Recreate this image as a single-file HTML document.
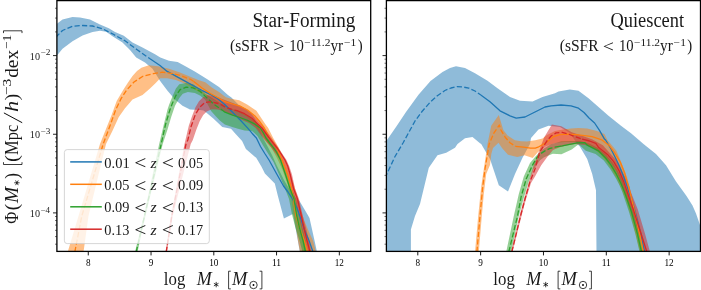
<!DOCTYPE html>
<html><head><meta charset="utf-8"><title>Stellar mass functions</title>
<style>html,body{margin:0;padding:0;background:#fff;}svg{display:block;will-change:transform;}body{font-family:"Liberation Serif",serif;}</style></head>
<body>
<svg width="701" height="290" viewBox="0 0 701 290" font-family="'Liberation Serif', serif" fill="#000">
<rect x="0" y="0" width="701" height="290" fill="#fff"/>
<defs><clipPath id="cl"><rect x="56.9" y="0.6" width="313.8" height="250.8"/></clipPath><clipPath id="cr"><rect x="386.4" y="0.6" width="314.1" height="250.8"/></clipPath></defs>
<g clip-path="url(#cl)">
<polygon points="56.0,25.0 57.0,23.8 62.5,19.5 72.5,17.0 80.0,17.5 90.0,19.5 100.0,24.5 108.8,28.2 115.0,32.0 123.8,35.8 132.5,42.5 142.5,47.5 155.0,54.2 160.3,57.6 169.0,60.7 177.6,61.9 184.5,65.7 194.8,71.4 206.9,79.1 219.0,86.9 227.6,94.7 231.7,97.8 238.6,104.7 249.0,110.7 254.5,118.0 259.0,128.0 263.0,138.0 268.0,147.3 272.0,155.0 277.0,166.0 284.0,180.0 291.0,192.0 296.0,198.0 299.5,201.0 307.5,214.5 309.5,218.0 314.5,240.5 317.0,252.0 299.9,252.0 293.0,213.9 283.9,218.5 277.9,196.0 274.8,183.6 264.9,173.6 261.4,166.4 256.2,157.8 245.9,149.1 242.1,141.0 235.9,134.2 231.0,128.8 222.3,126.9 213.6,118.8 206.8,113.0 203.5,110.5 200.0,110.0 190.0,109.5 182.5,105.8 175.0,99.5 167.5,90.8 160.0,80.8 152.5,68.8 145.0,62.5 136.2,57.5 130.0,50.0 122.5,42.5 112.5,36.2 106.2,31.8 100.0,30.8 92.5,32.0 82.5,35.5 72.5,41.2 62.5,48.8 57.0,55.5 56.0,57.0" fill="#1f77b4" fill-opacity="0.5" />
<polygon points="67.7,252.0 78.5,216.0 100.0,144.0 105.8,129.5 111.8,114.5 116.7,101.0 123.5,89.4 128.0,82.5 132.5,76.0 137.0,71.0 141.4,67.7 148.9,65.2 157.9,66.2 169.0,68.8 179.3,72.2 189.7,76.6 198.3,80.0 205.2,82.2 212.1,87.8 219.0,92.1 225.9,97.2 231.0,98.7 239.2,100.2 247.5,104.7 256.4,110.7 260.9,117.5 265.4,124.2 268.2,128.0 273.2,138.0 278.5,147.3 283.5,157.0 288.0,168.0 293.0,182.0 297.0,195.0 300.0,207.0 304.0,220.0 309.0,232.0 313.0,240.5 316.0,252.0 300.0,252.0 298.0,240.5 296.0,228.0 293.5,214.5 291.0,198.0 287.5,184.0 282.5,170.0 277.0,158.0 271.5,148.0 265.5,140.0 260.0,132.0 254.0,124.0 247.0,117.0 238.0,112.0 228.0,108.0 219.0,103.3 210.3,98.1 201.7,93.8 193.1,88.6 184.5,83.4 175.9,80.0 167.2,78.3 160.3,78.3 155.2,83.4 150.0,88.6 142.5,95.0 132.5,99.5 125.0,108.2 118.8,117.0 112.5,130.8 106.0,144.0 88.5,216.0 83.5,252.0" fill="#ff7f0e" fill-opacity="0.5" />
<polygon points="135.0,252.0 143.8,216.0 159.2,144.0 163.8,124.5 167.5,109.5 169.0,105.0 172.4,96.4 175.9,88.6 179.3,84.3 186.2,83.1 193.1,84.3 200.0,89.5 205.2,93.8 212.0,98.0 220.0,103.0 230.0,108.0 240.0,112.0 248.0,116.0 255.0,122.0 262.2,128.0 268.0,138.0 275.5,147.3 282.5,160.0 287.5,174.5 292.0,188.5 296.0,199.0 299.0,214.5 302.5,228.0 305.5,240.5 307.5,252.0 302.5,252.0 299.5,240.5 295.5,228.0 292.0,214.5 289.0,199.0 285.0,188.5 279.0,174.5 273.5,162.0 269.0,155.0 263.5,146.3 257.5,136.0 252.0,130.9 244.5,130.6 238.0,128.8 232.2,127.0 224.8,124.5 219.8,120.5 216.0,116.5 211.1,111.0 208.0,105.0 205.2,99.8 200.0,95.5 194.8,92.9 187.9,92.1 182.8,93.8 179.3,98.1 175.0,105.8 171.2,117.0 167.5,129.5 162.7,144.0 145.5,216.0 137.5,252.0" fill="#2ca02c" fill-opacity="0.5" />
<polygon points="165.5,252.0 171.0,216.0 184.5,144.0 188.8,125.8 192.1,115.9 195.5,107.2 199.0,101.2 203.3,96.9 207.6,95.2 215.0,96.0 222.0,99.0 230.0,102.0 238.0,105.0 246.0,109.0 253.0,115.0 259.0,122.0 264.5,128.0 271.0,137.0 277.5,146.5 282.5,154.0 286.5,160.0 289.5,167.0 292.0,174.5 295.0,188.5 299.0,199.0 302.5,214.5 306.0,228.0 309.0,240.5 311.5,252.0 308.0,252.0 305.0,240.5 301.5,228.0 298.5,214.5 295.0,199.0 291.0,188.5 287.0,174.5 282.0,162.0 277.0,155.0 271.0,147.3 263.0,138.0 255.7,128.0 249.0,123.0 242.0,120.0 234.0,116.0 226.0,112.0 218.0,109.5 211.7,109.2 206.7,111.6 203.2,115.0 199.8,121.0 196.3,129.7 192.8,140.0 190.7,144.0 172.7,216.0 167.0,252.0" fill="#d62728" fill-opacity="0.5" />
<polyline points="56.0,37.5 57.0,36.0 62.5,30.5 72.5,26.2 82.5,25.5 92.5,26.0 102.5,28.8 112.5,33.8 125.0,40.8 137.5,50.0 150.0,58.8" fill="none" stroke="#1f77b4" stroke-width="1.3" stroke-dasharray="5.2 2.3" stroke-linejoin="round"/>
<polyline points="150.0,58.8 160.0,65.5 167.2,71.4 184.5,80.9 201.7,90.3 211.9,95.2 218.0,99.0 225.0,104.7 232.5,112.2 240.0,119.7 247.5,127.9 252.0,133.2 256.4,138.0 260.5,146.5 264.8,153.5 269.0,160.0 277.0,174.5 283.5,186.0 288.0,192.0 292.5,199.0 297.0,208.0 300.5,218.0 304.5,230.0 309.0,240.5 313.0,252.0" fill="none" stroke="#1f77b4" stroke-width="1.3" stroke-linejoin="round" stroke-linecap="butt"/>
<polyline points="74.8,252.0 81.8,216.0 103.2,144.0 110.0,125.8 115.8,109.5 121.2,98.4 126.5,90.2 134.0,82.0 142.9,76.3 153.4,73.6 162.4,72.2 172.9,73.6 181.9,76.0 190.8,79.5 193.8,81.5" fill="none" stroke="#ff7f0e" stroke-width="1.3" stroke-dasharray="5.2 2.3" stroke-linejoin="round"/>
<polyline points="193.8,81.5 201.7,87.8 210.3,93.5 219.0,98.2 225.0,101.7 232.5,104.0 240.0,106.2 247.5,110.0 254.9,116.0 259.4,121.2 264.3,128.0 269.6,138.0 276.7,147.3 282.0,160.0 287.5,174.5 291.5,188.5 293.5,199.0 295.7,214.5 299.5,228.0 304.3,240.5 307.5,252.0" fill="none" stroke="#ff7f0e" stroke-width="1.3" stroke-linejoin="round" stroke-linecap="butt"/>
<polyline points="136.2,252.0 144.5,216.0 161.2,144.0 165.5,124.5 170.0,109.5 172.4,103.3 175.9,95.5 180.2,89.5 186.2,87.2 193.1,87.8 200.0,91.2 205.9,96.9 214.5,104.7 223.1,110.7" fill="none" stroke="#2ca02c" stroke-width="1.3" stroke-dasharray="5.2 2.3" stroke-linejoin="round"/>
<polyline points="223.1,110.7 225.0,112.2 232.5,115.2 240.0,117.5 247.5,120.4 254.9,124.2 260.2,128.0 263.5,133.2 266.0,138.0 270.5,144.0 273.2,147.3 276.5,152.0 280.5,160.0 285.5,174.5 290.0,188.5 294.0,199.0 296.5,214.5 299.5,228.0 303.0,240.5 305.5,252.0" fill="none" stroke="#2ca02c" stroke-width="1.3" stroke-linejoin="round" stroke-linecap="butt"/>
<polyline points="166.2,252.0 171.8,216.0 186.0,144.0 187.8,140.0 191.2,126.2 195.5,114.1 199.8,107.2 205.0,102.4 211.0,101.7 219.7,103.8 225.0,107.0 231.0,109.2 236.0,110.4" fill="none" stroke="#d62728" stroke-width="1.3" stroke-dasharray="5.2 2.3" stroke-linejoin="round"/>
<polyline points="236.0,110.4 237.0,110.7 244.5,113.7 251.9,118.2 257.9,124.2 262.0,128.0 268.5,137.0 273.5,143.5 277.5,148.5 281.5,154.5 285.0,160.0 287.7,166.0 290.2,174.5 293.5,188.5 297.5,199.0 301.0,214.5 304.0,228.0 307.0,240.5 310.0,252.0" fill="none" stroke="#d62728" stroke-width="1.3" stroke-linejoin="round" stroke-linecap="butt"/>
</g>
<g clip-path="url(#cr)">
<polygon points="385.0,143.0 387.0,140.0 396.0,127.0 406.0,112.0 418.7,94.5 430.5,81.0 442.5,72.0 450.0,68.0 456.0,66.2 465.0,68.0 475.0,73.2 487.5,80.8 497.5,88.2 510.0,97.0 520.0,100.8 532.5,101.5 542.5,97.0 555.0,93.2 558.5,91.5 569.8,89.5 578.5,90.8 588.5,98.2 598.5,107.0 608.5,115.8 621.0,125.8 631.0,133.2 643.5,144.0 656.0,154.0 666.0,165.2 676.0,181.5 686.5,196.0 692.5,205.5 696.0,213.5 700.0,225.0 702.0,235.0 702.0,253.0 596.5,253.0 596.0,190.2 592.2,174.0 587.2,159.0 579.8,146.5 576.9,143.4 570.0,133.0 560.0,127.0 548.5,125.8 538.5,129.5 531.0,138.0 530.0,144.0 522.5,157.8 515.0,174.0 508.0,191.5 498.8,185.2 490.0,159.0 481.2,144.0 480.0,143.2 472.5,137.0 465.0,138.2 457.5,144.0 455.0,147.8 446.2,152.8 437.5,155.2 428.8,167.8 420.0,204.0 415.0,216.0 410.9,229.5 410.9,253.0 385.0,253.0" fill="#1f77b4" fill-opacity="0.5" />
<polygon points="475.0,252.0 478.2,216.0 481.2,186.5 483.8,169.0 487.5,144.0 491.2,125.8 498.8,115.0 503.3,130.0 507.6,135.4 514.8,140.3 521.0,141.2 526.9,141.5 535.3,140.3 542.5,138.4 547.0,135.0 555.0,131.0 563.0,129.5 571.0,128.5 578.4,127.9 587.1,128.5 597.0,131.0 604.5,134.1 607.4,140.0 616.4,150.8 621.8,163.4 627.2,177.8 629.2,185.0 630.8,192.0 634.5,205.0 639.0,222.0 643.0,238.0 646.0,252.0 640.0,252.0 636.5,238.0 632.0,220.0 627.0,203.0 622.0,190.0 617.5,180.0 612.0,170.0 606.0,161.0 600.0,154.0 593.0,148.0 585.0,144.0 575.0,142.0 565.0,142.0 555.0,143.0 545.0,146.5 538.0,152.0 532.7,158.0 529.0,156.8 524.5,155.3 517.2,157.0 508.0,154.7 502.0,148.0 498.5,142.7 493.0,148.0 491.3,154.0 490.0,165.0 486.2,174.0 483.8,194.0 481.8,216.0 478.8,252.0" fill="#ff7f0e" fill-opacity="0.5" />
<polygon points="506.2,252.0 513.8,216.0 518.8,194.0 523.8,176.5 530.0,163.0 535.5,156.4 542.4,149.5 551.0,144.3 561.4,141.2 571.7,140.9 580.3,140.9 589.0,143.4 597.6,147.8 606.2,154.7 613.1,163.0 618.5,172.0 623.0,182.0 626.5,192.0 633.5,212.0 639.5,234.0 643.5,252.0 639.6,252.0 635.4,234.0 629.0,212.0 622.3,192.0 619.6,185.5 616.0,178.5 610.5,169.5 603.8,160.5 595.6,154.0 585.8,150.8 578.6,144.3 571.7,149.5 561.4,154.3 552.8,153.8 544.1,157.2 540.0,160.2 533.8,169.0 528.8,181.5 523.8,197.8 518.8,216.0 511.2,252.0" fill="#2ca02c" fill-opacity="0.5" />
<polygon points="511.0,252.0 519.5,216.0 524.0,199.0 529.0,181.5 533.8,165.0 539.0,151.2 544.1,137.4 551.9,124.5 561.4,126.2 571.7,132.2 582.1,135.7 592.4,139.5 602.8,145.2 609.7,152.9 616.0,160.0 621.0,169.0 626.0,179.0 629.2,186.0 630.8,192.0 637.8,209.5 645.1,234.0 650.0,252.0 644.0,252.0 638.0,232.0 631.0,210.0 624.5,192.0 621.0,182.0 616.5,172.0 611.0,163.5 604.5,156.0 598.0,151.0 592.0,147.5 585.0,145.0 575.0,144.0 566.0,145.5 559.0,147.5 553.0,150.0 547.6,156.4 541.2,165.2 535.0,176.5 531.0,183.0 526.0,199.0 521.5,216.0 512.5,252.0" fill="#d62728" fill-opacity="0.5" />
<polyline points="385.0,178.0 388.0,171.5 395.0,156.5 403.0,143.0 409.0,132.0 414.9,121.2 422.0,111.5 429.9,102.5 437.0,96.0 444.9,90.5 451.0,88.0 456.9,86.7 463.0,87.0 468.8,88.2 475.0,91.0 480.8,95.0" fill="none" stroke="#1f77b4" stroke-width="1.3" stroke-dasharray="5.2 2.3" stroke-linejoin="round"/>
<polyline points="480.8,95.0 490.0,101.7 500.0,110.8 510.0,115.8 516.2,118.2 525.0,117.0 535.0,112.0 545.0,107.0 551.0,105.8 561.0,105.0 571.0,105.8 578.5,108.2 584.0,112.5 589.0,118.0 594.6,123.0 599.5,130.4 604.5,139.1 605.6,140.0 611.0,149.0 615.5,158.0 619.0,165.2 623.0,175.0 627.0,186.0 631.0,198.0 636.0,215.0 641.0,235.0 644.5,252.0" fill="none" stroke="#1f77b4" stroke-width="1.3" stroke-linejoin="round" stroke-linecap="butt"/>
<polyline points="476.9,252.0 480.0,216.0 482.5,189.0 485.0,169.0 489.2,144.0 493.8,133.2 499.3,125.0 500.9,130.0 505.2,137.2 510.0,142.7 515.4,146.3" fill="none" stroke="#ff7f0e" stroke-width="1.3" stroke-dasharray="5.2 2.3" stroke-linejoin="round"/>
<polyline points="515.4,146.3 523.3,147.1 530.5,148.1 535.3,148.1 538.0,147.2 542.4,144.7 547.4,141.6 553.6,136.6 559.8,134.7 567.3,134.1 575.9,134.7 584.6,135.6 592.1,136.6 599.5,139.1 602.0,140.0 609.2,145.4 614.6,152.6 620.0,161.6 624.5,172.4 628.0,185.0 629.9,192.0 633.0,205.0 637.0,222.0 640.5,238.0 643.4,252.0" fill="none" stroke="#ff7f0e" stroke-width="1.3" stroke-linejoin="round" stroke-linecap="butt"/>
<polyline points="508.8,252.0 517.5,216.0 521.2,196.5 526.2,179.0 532.5,165.2 537.2,157.2 541.0,153.5 544.9,150.9 549.9,148.4 554.9,147.2" fill="none" stroke="#2ca02c" stroke-width="1.3" stroke-dasharray="5.2 2.3" stroke-linejoin="round"/>
<polyline points="554.9,147.2 562.3,145.9 569.7,144.3 577.2,142.8 584.6,142.6 587.6,145.4 598.4,150.8 605.6,158.0 611.0,165.2 616.4,174.2 620.9,183.2 624.5,192.0 631.5,212.0 637.5,234.0 641.5,252.0" fill="none" stroke="#2ca02c" stroke-width="1.3" stroke-linejoin="round" stroke-linecap="butt"/>
<polyline points="511.8,252.0 520.5,216.0 525.0,199.0 530.0,181.5 535.0,169.0 538.0,158.0 540.0,151.5 543.7,145.9 547.4,140.3 551.1,136.0 556.1,132.9 562.3,132.3 568.5,134.1 574.7,136.6 582.1,139.1" fill="none" stroke="#d62728" stroke-width="1.3" stroke-dasharray="5.2 2.3" stroke-linejoin="round"/>
<polyline points="582.1,139.1 589.6,141.0 595.8,143.4 598.4,147.2 607.4,154.4 613.7,161.6 619.0,170.6 623.6,181.4 627.2,192.0 633.5,210.0 640.5,232.0 646.9,252.0" fill="none" stroke="#d62728" stroke-width="1.3" stroke-linejoin="round" stroke-linecap="butt"/>
</g>
<rect x="64.4" y="149.6" width="144.9" height="94.0" rx="2.8" ry="2.8" fill="#fff" fill-opacity="0.8" stroke="#ccc" stroke-opacity="0.8" stroke-width="1"/>
<line x1="70.2" y1="161.9" x2="101.8" y2="161.9" stroke="#1f77b4" stroke-width="1.5"/>
<g opacity="0.9"><text x="104.35" y="167.50" font-size="15.6" textLength="25.43" lengthAdjust="spacingAndGlyphs" xml:space="preserve">0.01</text></g>
<g opacity="0.9"><text x="134.33" y="169.10" font-size="19.5" textLength="12.12" lengthAdjust="spacingAndGlyphs" xml:space="preserve">&lt;</text></g>
<g opacity="0.9"><text x="150.48" y="167.50" font-size="15.6" textLength="6.13" lengthAdjust="spacingAndGlyphs" font-style="italic" xml:space="preserve">z</text></g>
<g opacity="0.9"><text x="161.83" y="169.10" font-size="19.5" textLength="12.12" lengthAdjust="spacingAndGlyphs" xml:space="preserve">&lt;</text></g>
<g opacity="0.9"><text x="178.05" y="167.50" font-size="15.6" textLength="25.21" lengthAdjust="spacingAndGlyphs" xml:space="preserve">0.05</text></g>
<line x1="70.2" y1="184.3" x2="101.8" y2="184.3" stroke="#ff7f0e" stroke-width="1.5"/>
<g opacity="0.9"><text x="104.35" y="189.90" font-size="15.6" textLength="25.11" lengthAdjust="spacingAndGlyphs" xml:space="preserve">0.05</text></g>
<g opacity="0.9"><text x="134.33" y="191.50" font-size="19.5" textLength="12.12" lengthAdjust="spacingAndGlyphs" xml:space="preserve">&lt;</text></g>
<g opacity="0.9"><text x="150.48" y="189.90" font-size="15.6" textLength="6.13" lengthAdjust="spacingAndGlyphs" font-style="italic" xml:space="preserve">z</text></g>
<g opacity="0.9"><text x="161.83" y="191.50" font-size="19.5" textLength="12.12" lengthAdjust="spacingAndGlyphs" xml:space="preserve">&lt;</text></g>
<g opacity="0.9"><text x="178.05" y="189.90" font-size="15.6" textLength="25.24" lengthAdjust="spacingAndGlyphs" xml:space="preserve">0.09</text></g>
<line x1="70.2" y1="206.8" x2="101.8" y2="206.8" stroke="#2ca02c" stroke-width="1.5"/>
<g opacity="0.9"><text x="104.35" y="212.40" font-size="15.6" textLength="25.14" lengthAdjust="spacingAndGlyphs" xml:space="preserve">0.09</text></g>
<g opacity="0.9"><text x="134.33" y="214.00" font-size="19.5" textLength="12.12" lengthAdjust="spacingAndGlyphs" xml:space="preserve">&lt;</text></g>
<g opacity="0.9"><text x="150.48" y="212.40" font-size="15.6" textLength="6.13" lengthAdjust="spacingAndGlyphs" font-style="italic" xml:space="preserve">z</text></g>
<g opacity="0.9"><text x="161.83" y="214.00" font-size="19.5" textLength="12.12" lengthAdjust="spacingAndGlyphs" xml:space="preserve">&lt;</text></g>
<g opacity="0.9"><text x="178.05" y="212.40" font-size="15.6" textLength="25.21" lengthAdjust="spacingAndGlyphs" xml:space="preserve">0.13</text></g>
<line x1="70.2" y1="229.2" x2="101.8" y2="229.2" stroke="#d62728" stroke-width="1.5"/>
<g opacity="0.9"><text x="104.35" y="234.80" font-size="15.6" textLength="25.11" lengthAdjust="spacingAndGlyphs" xml:space="preserve">0.13</text></g>
<g opacity="0.9"><text x="134.33" y="236.40" font-size="19.5" textLength="12.12" lengthAdjust="spacingAndGlyphs" xml:space="preserve">&lt;</text></g>
<g opacity="0.9"><text x="150.48" y="234.80" font-size="15.6" textLength="6.13" lengthAdjust="spacingAndGlyphs" font-style="italic" xml:space="preserve">z</text></g>
<g opacity="0.9"><text x="161.83" y="236.40" font-size="19.5" textLength="12.12" lengthAdjust="spacingAndGlyphs" xml:space="preserve">&lt;</text></g>
<g opacity="0.9"><text x="178.05" y="234.80" font-size="15.6" textLength="25.06" lengthAdjust="spacingAndGlyphs" xml:space="preserve">0.17</text></g>
<rect x="56.9" y="0.6" width="313.8" height="250.8" fill="none" stroke="#000" stroke-width="1.3"/>
<rect x="386.4" y="0.6" width="314.1" height="250.8" fill="none" stroke="#000" stroke-width="1.3"/>
<line x1="55.0" y1="244.20" x2="56.9" y2="244.20" stroke="#000" stroke-width="0.55"/>
<line x1="55.0" y1="236.58" x2="56.9" y2="236.58" stroke="#000" stroke-width="0.55"/>
<line x1="55.0" y1="230.35" x2="56.9" y2="230.35" stroke="#000" stroke-width="0.55"/>
<line x1="55.0" y1="225.08" x2="56.9" y2="225.08" stroke="#000" stroke-width="0.55"/>
<line x1="55.0" y1="220.52" x2="56.9" y2="220.52" stroke="#000" stroke-width="0.55"/>
<line x1="55.0" y1="216.50" x2="56.9" y2="216.50" stroke="#000" stroke-width="0.55"/>
<line x1="53.0" y1="212.90" x2="56.9" y2="212.90" stroke="#000" stroke-width="0.85"/>
<line x1="55.0" y1="189.22" x2="56.9" y2="189.22" stroke="#000" stroke-width="0.55"/>
<line x1="55.0" y1="175.37" x2="56.9" y2="175.37" stroke="#000" stroke-width="0.55"/>
<line x1="55.0" y1="165.55" x2="56.9" y2="165.55" stroke="#000" stroke-width="0.55"/>
<line x1="55.0" y1="157.93" x2="56.9" y2="157.93" stroke="#000" stroke-width="0.55"/>
<line x1="55.0" y1="151.70" x2="56.9" y2="151.70" stroke="#000" stroke-width="0.55"/>
<line x1="55.0" y1="146.43" x2="56.9" y2="146.43" stroke="#000" stroke-width="0.55"/>
<line x1="55.0" y1="141.87" x2="56.9" y2="141.87" stroke="#000" stroke-width="0.55"/>
<line x1="55.0" y1="137.85" x2="56.9" y2="137.85" stroke="#000" stroke-width="0.55"/>
<line x1="53.0" y1="134.25" x2="56.9" y2="134.25" stroke="#000" stroke-width="0.85"/>
<line x1="55.0" y1="110.57" x2="56.9" y2="110.57" stroke="#000" stroke-width="0.55"/>
<line x1="55.0" y1="96.72" x2="56.9" y2="96.72" stroke="#000" stroke-width="0.55"/>
<line x1="55.0" y1="86.90" x2="56.9" y2="86.90" stroke="#000" stroke-width="0.55"/>
<line x1="55.0" y1="79.28" x2="56.9" y2="79.28" stroke="#000" stroke-width="0.55"/>
<line x1="55.0" y1="73.05" x2="56.9" y2="73.05" stroke="#000" stroke-width="0.55"/>
<line x1="55.0" y1="67.78" x2="56.9" y2="67.78" stroke="#000" stroke-width="0.55"/>
<line x1="55.0" y1="63.22" x2="56.9" y2="63.22" stroke="#000" stroke-width="0.55"/>
<line x1="55.0" y1="59.20" x2="56.9" y2="59.20" stroke="#000" stroke-width="0.55"/>
<line x1="53.0" y1="55.60" x2="56.9" y2="55.60" stroke="#000" stroke-width="0.85"/>
<line x1="55.0" y1="31.92" x2="56.9" y2="31.92" stroke="#000" stroke-width="0.55"/>
<line x1="55.0" y1="18.07" x2="56.9" y2="18.07" stroke="#000" stroke-width="0.55"/>
<line x1="55.0" y1="8.25" x2="56.9" y2="8.25" stroke="#000" stroke-width="0.55"/>
<line x1="384.5" y1="244.20" x2="386.4" y2="244.20" stroke="#000" stroke-width="0.55"/>
<line x1="384.5" y1="236.58" x2="386.4" y2="236.58" stroke="#000" stroke-width="0.55"/>
<line x1="384.5" y1="230.35" x2="386.4" y2="230.35" stroke="#000" stroke-width="0.55"/>
<line x1="384.5" y1="225.08" x2="386.4" y2="225.08" stroke="#000" stroke-width="0.55"/>
<line x1="384.5" y1="220.52" x2="386.4" y2="220.52" stroke="#000" stroke-width="0.55"/>
<line x1="384.5" y1="216.50" x2="386.4" y2="216.50" stroke="#000" stroke-width="0.55"/>
<line x1="382.5" y1="212.90" x2="386.4" y2="212.90" stroke="#000" stroke-width="0.85"/>
<line x1="384.5" y1="189.22" x2="386.4" y2="189.22" stroke="#000" stroke-width="0.55"/>
<line x1="384.5" y1="175.37" x2="386.4" y2="175.37" stroke="#000" stroke-width="0.55"/>
<line x1="384.5" y1="165.55" x2="386.4" y2="165.55" stroke="#000" stroke-width="0.55"/>
<line x1="384.5" y1="157.93" x2="386.4" y2="157.93" stroke="#000" stroke-width="0.55"/>
<line x1="384.5" y1="151.70" x2="386.4" y2="151.70" stroke="#000" stroke-width="0.55"/>
<line x1="384.5" y1="146.43" x2="386.4" y2="146.43" stroke="#000" stroke-width="0.55"/>
<line x1="384.5" y1="141.87" x2="386.4" y2="141.87" stroke="#000" stroke-width="0.55"/>
<line x1="384.5" y1="137.85" x2="386.4" y2="137.85" stroke="#000" stroke-width="0.55"/>
<line x1="382.5" y1="134.25" x2="386.4" y2="134.25" stroke="#000" stroke-width="0.85"/>
<line x1="384.5" y1="110.57" x2="386.4" y2="110.57" stroke="#000" stroke-width="0.55"/>
<line x1="384.5" y1="96.72" x2="386.4" y2="96.72" stroke="#000" stroke-width="0.55"/>
<line x1="384.5" y1="86.90" x2="386.4" y2="86.90" stroke="#000" stroke-width="0.55"/>
<line x1="384.5" y1="79.28" x2="386.4" y2="79.28" stroke="#000" stroke-width="0.55"/>
<line x1="384.5" y1="73.05" x2="386.4" y2="73.05" stroke="#000" stroke-width="0.55"/>
<line x1="384.5" y1="67.78" x2="386.4" y2="67.78" stroke="#000" stroke-width="0.55"/>
<line x1="384.5" y1="63.22" x2="386.4" y2="63.22" stroke="#000" stroke-width="0.55"/>
<line x1="384.5" y1="59.20" x2="386.4" y2="59.20" stroke="#000" stroke-width="0.55"/>
<line x1="382.5" y1="55.60" x2="386.4" y2="55.60" stroke="#000" stroke-width="0.85"/>
<line x1="384.5" y1="31.92" x2="386.4" y2="31.92" stroke="#000" stroke-width="0.55"/>
<line x1="384.5" y1="18.07" x2="386.4" y2="18.07" stroke="#000" stroke-width="0.55"/>
<line x1="384.5" y1="8.25" x2="386.4" y2="8.25" stroke="#000" stroke-width="0.55"/>
<line x1="88.28" y1="251.4" x2="88.28" y2="255.4" stroke="#000" stroke-width="0.9"/>
<text x="88.28" y="265.9" font-size="10.5" text-anchor="middle" textLength="4.6" lengthAdjust="spacingAndGlyphs">8</text>
<line x1="151.04" y1="251.4" x2="151.04" y2="255.4" stroke="#000" stroke-width="0.9"/>
<text x="151.04" y="265.9" font-size="10.5" text-anchor="middle" textLength="4.6" lengthAdjust="spacingAndGlyphs">9</text>
<line x1="213.80" y1="251.4" x2="213.80" y2="255.4" stroke="#000" stroke-width="0.9"/>
<text x="213.80" y="265.9" font-size="10.5" text-anchor="middle" textLength="9.2" lengthAdjust="spacingAndGlyphs">10</text>
<line x1="276.56" y1="251.4" x2="276.56" y2="255.4" stroke="#000" stroke-width="0.9"/>
<text x="276.56" y="265.9" font-size="10.5" text-anchor="middle" textLength="9.2" lengthAdjust="spacingAndGlyphs">11</text>
<line x1="339.32" y1="251.4" x2="339.32" y2="255.4" stroke="#000" stroke-width="0.9"/>
<text x="339.32" y="265.9" font-size="10.5" text-anchor="middle" textLength="9.2" lengthAdjust="spacingAndGlyphs">12</text>
<line x1="417.81" y1="251.4" x2="417.81" y2="255.4" stroke="#000" stroke-width="0.9"/>
<text x="417.81" y="265.9" font-size="10.5" text-anchor="middle" textLength="4.6" lengthAdjust="spacingAndGlyphs">8</text>
<line x1="480.64" y1="251.4" x2="480.64" y2="255.4" stroke="#000" stroke-width="0.9"/>
<text x="480.64" y="265.9" font-size="10.5" text-anchor="middle" textLength="4.6" lengthAdjust="spacingAndGlyphs">9</text>
<line x1="543.47" y1="251.4" x2="543.47" y2="255.4" stroke="#000" stroke-width="0.9"/>
<text x="543.47" y="265.9" font-size="10.5" text-anchor="middle" textLength="9.2" lengthAdjust="spacingAndGlyphs">10</text>
<line x1="606.30" y1="251.4" x2="606.30" y2="255.4" stroke="#000" stroke-width="0.9"/>
<text x="606.30" y="265.9" font-size="10.5" text-anchor="middle" textLength="9.2" lengthAdjust="spacingAndGlyphs">11</text>
<line x1="669.13" y1="251.4" x2="669.13" y2="255.4" stroke="#000" stroke-width="0.9"/>
<text x="669.13" y="265.9" font-size="10.5" text-anchor="middle" textLength="9.2" lengthAdjust="spacingAndGlyphs">12</text>
<g opacity="0.9"><text x="29.81" y="59.60" font-size="10.6" textLength="10.18" lengthAdjust="spacingAndGlyphs" xml:space="preserve">10</text></g>
<g opacity="0.9"><text x="40.53" y="55.40" font-size="7.4" textLength="9.99" lengthAdjust="spacingAndGlyphs" xml:space="preserve">−2</text></g>
<g opacity="0.9"><text x="29.81" y="138.25" font-size="10.6" textLength="10.18" lengthAdjust="spacingAndGlyphs" xml:space="preserve">10</text></g>
<g opacity="0.9"><text x="40.54" y="134.05" font-size="7.4" textLength="9.82" lengthAdjust="spacingAndGlyphs" xml:space="preserve">−3</text></g>
<g opacity="0.9"><text x="29.81" y="216.90" font-size="10.6" textLength="10.18" lengthAdjust="spacingAndGlyphs" xml:space="preserve">10</text></g>
<g opacity="0.9"><text x="40.55" y="212.70" font-size="7.4" textLength="9.59" lengthAdjust="spacingAndGlyphs" xml:space="preserve">−4</text></g>
<g opacity="0.9"><text x="252.42" y="26.60" font-size="20.0" textLength="102.94" lengthAdjust="spacingAndGlyphs" xml:space="preserve">Star-Forming</text></g>
<g opacity="0.9"><text x="610.44" y="26.60" font-size="20.0" textLength="73.66" lengthAdjust="spacingAndGlyphs" xml:space="preserve">Quiescent</text></g>
<g opacity="0.9"><text x="230.12" y="51.20" font-size="15.8" textLength="38.91" lengthAdjust="spacingAndGlyphs" xml:space="preserve">(sSFR</text></g>
<g opacity="0.9"><text x="273.20" y="51.90" font-size="17.5" textLength="11.15" lengthAdjust="spacingAndGlyphs" xml:space="preserve">&gt;</text></g>
<g opacity="0.9"><text x="289.31" y="51.20" font-size="15.8" textLength="14.64" lengthAdjust="spacingAndGlyphs" xml:space="preserve">10</text></g>
<g opacity="0.9"><text x="304.34" y="46.00" font-size="10.0" textLength="26.08" lengthAdjust="spacingAndGlyphs" xml:space="preserve">−11.2</text></g>
<g opacity="0.9"><text x="330.41" y="51.20" font-size="15.8" textLength="12.72" lengthAdjust="spacingAndGlyphs" xml:space="preserve">yr</text></g>
<g opacity="0.9"><text x="344.03" y="46.00" font-size="10.0" textLength="12.27" lengthAdjust="spacingAndGlyphs" xml:space="preserve">−1</text></g>
<g opacity="0.9"><text x="357.72" y="51.20" font-size="15.8" textLength="4.93" lengthAdjust="spacingAndGlyphs" xml:space="preserve">)</text></g>
<g opacity="0.9"><text x="559.72" y="51.20" font-size="15.8" textLength="38.91" lengthAdjust="spacingAndGlyphs" xml:space="preserve">(sSFR</text></g>
<g opacity="0.9"><text x="602.82" y="51.90" font-size="17.5" textLength="11.15" lengthAdjust="spacingAndGlyphs" xml:space="preserve">&lt;</text></g>
<g opacity="0.9"><text x="618.91" y="51.20" font-size="15.8" textLength="14.64" lengthAdjust="spacingAndGlyphs" xml:space="preserve">10</text></g>
<g opacity="0.9"><text x="633.94" y="46.00" font-size="10.0" textLength="26.08" lengthAdjust="spacingAndGlyphs" xml:space="preserve">−11.2</text></g>
<g opacity="0.9"><text x="660.01" y="51.20" font-size="15.8" textLength="12.72" lengthAdjust="spacingAndGlyphs" xml:space="preserve">yr</text></g>
<g opacity="0.9"><text x="673.63" y="46.00" font-size="10.0" textLength="12.27" lengthAdjust="spacingAndGlyphs" xml:space="preserve">−1</text></g>
<g opacity="0.9"><text x="687.32" y="51.20" font-size="15.8" textLength="4.93" lengthAdjust="spacingAndGlyphs" xml:space="preserve">)</text></g>
<g opacity="0.9"><text x="163.86" y="284.80" font-size="18.6" textLength="21.46" lengthAdjust="spacingAndGlyphs" xml:space="preserve">log</text></g>
<g opacity="0.9"><text x="196.81" y="284.80" font-size="18.6" textLength="14.96" lengthAdjust="spacingAndGlyphs" font-style="italic" xml:space="preserve">M</text></g>
<line x1="216.20" y1="281.90" x2="216.20" y2="287.30" stroke="#000" stroke-width="0.75"/>
<line x1="213.86" y1="283.25" x2="218.54" y2="285.95" stroke="#000" stroke-width="0.75"/>
<line x1="218.54" y1="283.25" x2="213.86" y2="285.95" stroke="#000" stroke-width="0.75"/>
<path d="M230.80,271.20H228.60V288.90H230.80" fill="none" stroke="#000" stroke-opacity="0.9" stroke-width="0.85" stroke-linejoin="miter"/>
<g opacity="0.9"><text x="232.02" y="284.80" font-size="18.6" textLength="15.34" lengthAdjust="spacingAndGlyphs" font-style="italic" xml:space="preserve">M</text></g>
<circle cx="253.50" cy="285.00" r="3.7" fill="none" stroke="#000" stroke-width="0.75"/><circle cx="253.50" cy="285.00" r="0.95" fill="#000"/>
<path d="M259.60,271.20H261.90V288.90H259.60" fill="none" stroke="#000" stroke-opacity="0.9" stroke-width="0.85" stroke-linejoin="miter"/>
<g opacity="0.9"><text x="493.36" y="284.80" font-size="18.6" textLength="21.46" lengthAdjust="spacingAndGlyphs" xml:space="preserve">log</text></g>
<g opacity="0.9"><text x="526.31" y="284.80" font-size="18.6" textLength="14.96" lengthAdjust="spacingAndGlyphs" font-style="italic" xml:space="preserve">M</text></g>
<line x1="545.70" y1="281.90" x2="545.70" y2="287.30" stroke="#000" stroke-width="0.75"/>
<line x1="543.36" y1="283.25" x2="548.04" y2="285.95" stroke="#000" stroke-width="0.75"/>
<line x1="548.04" y1="283.25" x2="543.36" y2="285.95" stroke="#000" stroke-width="0.75"/>
<path d="M560.30,271.20H558.10V288.90H560.30" fill="none" stroke="#000" stroke-opacity="0.9" stroke-width="0.85" stroke-linejoin="miter"/>
<g opacity="0.9"><text x="561.52" y="284.80" font-size="18.6" textLength="15.34" lengthAdjust="spacingAndGlyphs" font-style="italic" xml:space="preserve">M</text></g>
<circle cx="583.00" cy="285.00" r="3.7" fill="none" stroke="#000" stroke-width="0.75"/><circle cx="583.00" cy="285.00" r="0.95" fill="#000"/>
<path d="M589.10,271.20H591.40V288.90H589.10" fill="none" stroke="#000" stroke-opacity="0.9" stroke-width="0.85" stroke-linejoin="miter"/>
<g transform="translate(17.8,223.4) rotate(-90)">
<g opacity="0.9"><text x="-0.30" y="0.00" font-size="18.6" textLength="12.10" lengthAdjust="spacingAndGlyphs" xml:space="preserve">Φ</text></g>
<g opacity="0.9"><text x="13.16" y="0.00" font-size="18.6" textLength="6.35" lengthAdjust="spacingAndGlyphs" xml:space="preserve">(</text></g>
<g opacity="0.9"><text x="20.53" y="0.00" font-size="18.6" textLength="16.18" lengthAdjust="spacingAndGlyphs" font-style="italic" xml:space="preserve">M</text></g>
<line x1="40.60" y1="-3.60" x2="40.60" y2="1.80" stroke="#000" stroke-width="0.75"/>
<line x1="38.26" y1="-2.25" x2="42.94" y2="0.45" stroke="#000" stroke-width="0.75"/>
<line x1="42.94" y1="-2.25" x2="38.26" y2="0.45" stroke="#000" stroke-width="0.75"/>
<g opacity="0.9"><text x="44.65" y="0.00" font-size="18.6" textLength="5.70" lengthAdjust="spacingAndGlyphs" xml:space="preserve">)</text></g>
<path d="M61.20,-14.30H58.90V4.20H61.20" fill="none" stroke="#000" stroke-opacity="0.9" stroke-width="0.85" stroke-linejoin="miter"/>
<g opacity="0.9"><text x="61.39" y="0.00" font-size="18.6" textLength="6.87" lengthAdjust="spacingAndGlyphs" xml:space="preserve">(</text></g>
<g opacity="0.9"><text x="68.53" y="0.00" font-size="18.6" textLength="30.18" lengthAdjust="spacingAndGlyphs" xml:space="preserve">Mpc</text></g>
<line x1="100.7" y1="4.4" x2="110.5" y2="-13.9" stroke="#000" stroke-width="0.95"/>
<g opacity="0.9"><text x="111.29" y="0.00" font-size="18.6" textLength="11.25" lengthAdjust="spacingAndGlyphs" font-style="italic" xml:space="preserve">h</text></g>
<g opacity="0.9"><text x="123.07" y="0.00" font-size="18.6" textLength="6.48" lengthAdjust="spacingAndGlyphs" xml:space="preserve">)</text></g>
<g opacity="0.9"><text x="128.22" y="-6.80" font-size="12.6" textLength="16.59" lengthAdjust="spacingAndGlyphs" xml:space="preserve">−3</text></g>
<g opacity="0.9"><text x="145.60" y="0.00" font-size="18.6" textLength="27.83" lengthAdjust="spacingAndGlyphs" xml:space="preserve">dex</text></g>
<g opacity="0.9"><text x="174.22" y="-6.80" font-size="12.6" textLength="14.61" lengthAdjust="spacingAndGlyphs" xml:space="preserve">−1</text></g>
<path d="M190.30,-14.30H192.60V4.20H190.30" fill="none" stroke="#000" stroke-opacity="0.9" stroke-width="0.85" stroke-linejoin="miter"/>
</g>
</svg>
</body></html>
